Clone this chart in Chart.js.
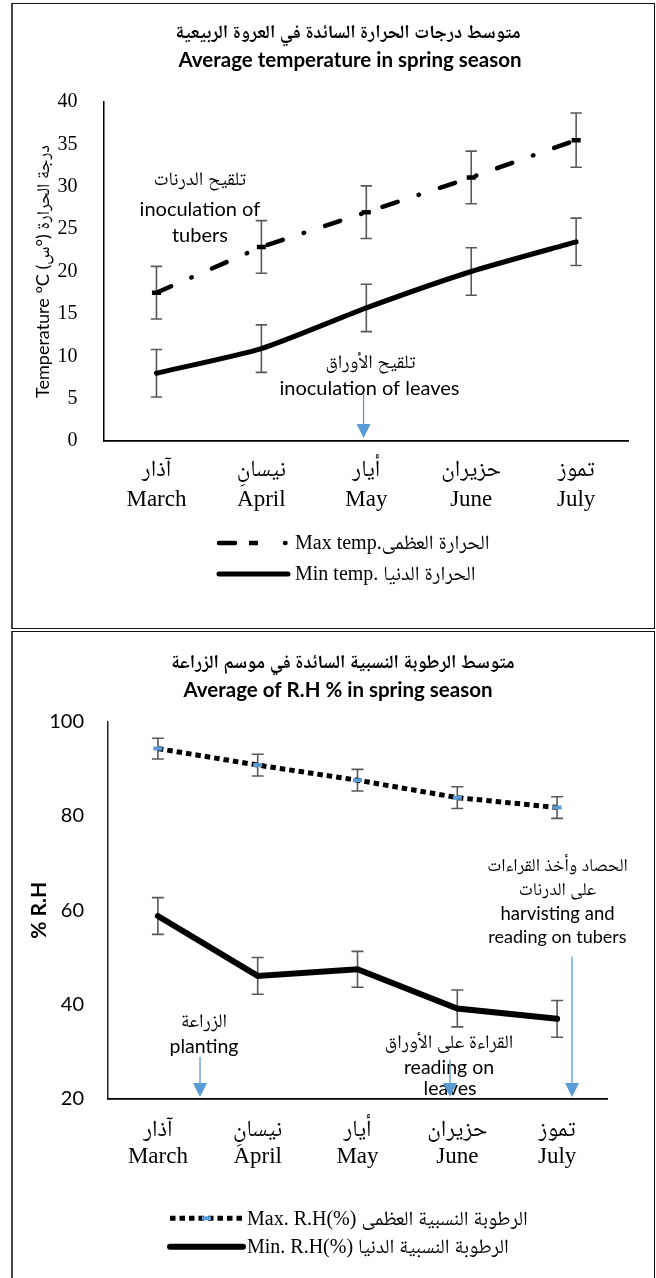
<!DOCTYPE html>
<html><head><meta charset="utf-8">
<script src="https://cdn.jsdelivr.net/npm/chart.js@4.4.1/dist/chart.umd.min.js"></script>
<style>
html,body{margin:0;padding:0;background:#fff}
body{width:656px;height:1278px;position:relative;overflow:hidden}
.panel{position:absolute;box-sizing:border-box;border:1px solid #111;border-left:2px solid #444}
#p1{left:11px;top:3px;width:644px;height:626px}
#p2{left:11px;top:631px;width:644px;height:660px}
canvas{position:absolute;left:0}
#c1{top:0}
#c2{top:630px}
</style></head>
<body>
<div class="panel" id="p1"></div>
<div class="panel" id="p2"></div>
<canvas id="c1" width="656" height="630" style="width:656px;height:630px"></canvas>
<canvas id="c2" width="656" height="648" style="width:656px;height:648px"></canvas>
<script>
// ---------- data ----------
const monthsAr = ['آذار', 'نيسانِ', 'أيار', 'حزيران', 'تموز'];
const monthsEn = ['March', 'April', 'May', 'June', 'July'];

const tempMax    = [17.5, 22.9, 27.0, 31.1, 35.5];
const tempMaxErr = [3.1, 3.1, 3.1, 3.1, 3.2];
const tempMin    = [8.0, 10.9, 15.7, 20.0, 23.5];
const tempMinErr = [2.8, 2.8, 2.8, 2.8, 2.8];

const rhMax    = [94.3, 90.8, 87.6, 83.9, 81.8];
const rhMaxErr = [2.2, 2.3, 2.3, 2.3, 2.3];
const rhMin    = [58.8, 46.1, 47.5, 39.2, 37.0];
const rhMinErr = [3.9, 3.9, 3.8, 3.9, 3.9];

const tempTicks = {min: 0, max: 40, step: 5};
const rhTicks   = {min: 20, max: 100, step: 20};

const titles1 = ['متوسط درجات الحرارة السائدة في العروة الربيعية', 'Average temperature in spring season'];
const titles2 = ['متوسط الرطوبة النسبية السائدة في موسم الزراعة', 'Average of R.H % in spring season'];
const yTitle1 = 'Temperature °C درجة الحرارة (°س)\u200F';
const yTitle2 = '% R.H';
const legend1 = ['Max temp.الحرارة العظمى', 'Min temp. الحرارة الدنيا'];
const legend2 = ['Max. R.H(%) الرطوبة النسبية العظمى', 'Min. R.H(%) الرطوبة النسبية الدنيا'];

const notes1 = ['تلقيح الدرنات', 'inoculation of', 'tubers', 'تلقيح الأوراق', 'inoculation of leaves'];
const notes2 = ['الزراعة', 'planting', 'القراءة على الأوراق', 'reading on', 'leaves',
                'الحصاد وأخذ القراءات', 'على الدرنات', 'harvisting and', 'reading on tubers'];

// ---------- styles ----------
const BLUE = '#5B9BD5';
const ERR = '#595959';
const AR = "'Noto Naskh Arabic', 'Noto Sans Arabic', 'DejaVu Sans Condensed'";
const SANS = "Lato, " + AR + ", sans-serif";
const SERIF = "'Liberation Serif', " + AR + ", serif";
const labels = monthsAr.map((a, i) => [a, monthsEn[i]]);

function overlay(cfg) {
  return {
    id: 'overlay',
    beforeDatasetsDraw(chart) {
      const ctx = chart.ctx, ys = chart.scales.y;
      chart.data.datasets.forEach((ds, i) => {
        if (!ds.errors) return;
        const meta = chart.getDatasetMeta(i);
        ctx.save();
        ctx.strokeStyle = ERR; ctx.lineWidth = 1.6; ctx.setLineDash([]);
        meta.data.forEach((pt, j) => {
          const v = ds.data[j], e = ds.errors[j];
          const yt = ys.getPixelForValue(v + e), yb = ys.getPixelForValue(v - e), x = pt.x;
          ctx.beginPath();
          ctx.moveTo(x, yt); ctx.lineTo(x, yb);
          ctx.moveTo(x - cfg.cap, yt); ctx.lineTo(x + cfg.cap, yt);
          ctx.moveTo(x - cfg.cap, yb); ctx.lineTo(x + cfg.cap, yb);
          ctx.stroke();
        });
        ctx.restore();
      });
    },
    afterDraw(chart) {
      const ctx = chart.ctx, xs = chart.scales.x, ys = chart.scales.y;
      const x0 = xs.getPixelForTick(0), dx = xs.getPixelForTick(1) - x0;
      const px = i => x0 + i * dx;
      ctx.save();
      ctx.fillStyle = '#000';
      ctx.textBaseline = 'middle';
      cfg.titles.forEach(t => {
        ctx.font = t.font; ctx.textAlign = 'center';
        ctx.fillText(t.text, t.x, t.y);
      });
      cfg.notes.forEach(t => {
        ctx.font = t.font; ctx.textAlign = 'center';
        ctx.fillText(t.text, px(t.i), ys.getPixelForValue(t.v));
      });
      cfg.arrows.forEach(a => {
        const x = px(a.i), y1 = ys.getPixelForValue(a.from), y2 = ys.getPixelForValue(a.to);
        ctx.strokeStyle = BLUE; ctx.fillStyle = BLUE; ctx.lineWidth = 1.3;
        ctx.beginPath(); ctx.moveTo(x, y1); ctx.lineTo(x, y2 - 12); ctx.stroke();
        ctx.beginPath(); ctx.moveTo(x - 7, y2 - 14); ctx.lineTo(x + 7, y2 - 14); ctx.lineTo(x, y2); ctx.closePath(); ctx.fill();
      });
      chart.data.datasets.forEach((ds, i) => {
        const L = cfg.legend, y = L.y[i];
        ctx.save();
        ctx.strokeStyle = ds.borderColor; ctx.lineWidth = ds.borderWidth;
        ctx.lineCap = ds.borderCapStyle || 'butt';
        ctx.setLineDash((L.dash && L.dash[i]) || ds.borderDash || []);
        ctx.beginPath(); ctx.moveTo(L.x1, y); ctx.lineTo(L.x2, y); ctx.stroke();
        ctx.setLineDash([]);
        if (ds.pointStyle === 'line' && ds.pointRadius > 0) {
          const mx = (L.x1 + L.x2) / 2;
          ctx.lineCap = 'butt';
          ctx.strokeStyle = ds.pointBorderColor; ctx.lineWidth = ds.pointBorderWidth;
          ctx.beginPath(); ctx.moveTo(mx - ds.pointRadius, y); ctx.lineTo(mx + ds.pointRadius, y); ctx.stroke();
        }
        ctx.restore();
        ctx.font = L.font; ctx.textAlign = 'left'; ctx.fillStyle = '#000'; ctx.textBaseline = 'middle';
        ctx.fillText(ds.label, L.tx, y + 1);
      });
      ctx.restore();
    }
  };
}

Chart.defaults.animation = false;
Chart.defaults.color = '#000';

// ---------- chart 1: temperature ----------
new Chart(document.getElementById('c1'), {
  type: 'line',
  data: {
    labels: labels,
    datasets: [
      { label: legend1[0], data: tempMax, errors: tempMaxErr,
        borderColor: '#000', borderWidth: 4.5, borderDash: [16, 22, 0.5, 22], borderCapStyle: 'round',
        pointStyle: 'line', pointRadius: 4.5, pointBorderColor: '#000', pointBorderWidth: 4.5,
        pointBackgroundColor: '#000', tension: 0, fill: false },
      { label: legend1[1], data: tempMin, errors: tempMinErr,
        borderColor: '#000', borderWidth: 5, borderCapStyle: 'round', pointRadius: 0,
        tension: 0.2, fill: false }
    ]
  },
  options: {
    responsive: false,
    layout: { padding: { left: 0, top: 102, right: 27.4, bottom: 109 } },
    plugins: { legend: { display: false }, title: { display: false }, tooltip: { enabled: false } },
    scales: {
      x: {
        offset: true,
        grid: { display: false, drawTicks: false },
        border: { display: true, color: '#000', width: 1.8 },
        ticks: { autoSkip: false, maxRotation: 0, padding: 14, color: '#000',
                 font: { family: SERIF, size: 23, lineHeight: '30px' } },
        afterFit: s => { s.height = 80; }
      },
      y: {
        min: tempTicks.min, max: tempTicks.max,
        grid: { display: false, drawTicks: false },
        border: { display: true, color: '#000', width: 1.5 },
        ticks: { stepSize: tempTicks.step, padding: 26.5, color: '#000',
                 font: { family: SERIF, size: 20 } },
        title: { display: true, text: yTitle1, color: '#000', padding: { top: 32, bottom: 0 },
                 font: { family: SANS, size: 18 } },
        afterFit: s => { s.width = 104; }
      }
    }
  },
  plugins: [overlay({
    cap: 5.7,
    titles: [
      { text: titles1[0], x: 348, y: 32, font: "bold 18.8px " + SANS },
      { text: titles1[1], x: 350, y: 60, font: "bold 20.5px " + SANS }
    ],
    notes: [
      { text: notes1[0], i: 0.414, v: 30.8, font: "19px " + SERIF },
      { text: notes1[1], i: 0.414, v: 27.26, font: "20px " + SANS },
      { text: notes1[2], i: 0.414, v: 24.3, font: "20px " + SANS },
      { text: notes1[3], i: 2.04, v: 9.24, font: "19px " + SERIF },
      { text: notes1[4], i: 2.03, v: 6.14, font: "20px " + SANS }
    ],
    arrows: [ { i: 1.974, from: 5.66, to: 0.35 } ],
    legend: { x1: 219, x2: 288, tx: 295, y: [543, 574], dash: [[16, 50, 0.5, 100], null],
              font: "20px " + SERIF }
  })]
});

// ---------- chart 2: relative humidity ----------
new Chart(document.getElementById('c2'), {
  type: 'line',
  data: {
    labels: labels,
    datasets: [
      { label: legend2[0], data: rhMax, errors: rhMaxErr,
        borderColor: '#000', borderWidth: 5, borderDash: [5.5, 4], borderCapStyle: 'butt',
        pointStyle: 'line', pointRadius: 4.5, pointBorderColor: BLUE, pointBorderWidth: 4,
        pointBackgroundColor: BLUE, tension: 0, fill: false },
      { label: legend2[1], data: rhMin, errors: rhMinErr,
        borderColor: '#000', borderWidth: 6, borderCapStyle: 'round', pointRadius: 0,
        tension: 0, fill: false }
    ]
  },
  options: {
    responsive: false,
    layout: { padding: { left: 0, top: 91.7, right: 49, bottom: 99 } },
    plugins: { legend: { display: false }, title: { display: false }, tooltip: { enabled: false } },
    scales: {
      x: {
        offset: true,
        grid: { display: false, drawTicks: false },
        border: { display: true, color: '#000', width: 1.8 },
        ticks: { autoSkip: false, maxRotation: 0, padding: 17.5, color: '#000',
                 font: { family: SERIF, size: 23, lineHeight: '27px' } },
        afterFit: s => { s.height = 80; }
      },
      y: {
        min: rhTicks.min, max: rhTicks.max,
        grid: { display: false, drawTicks: false },
        border: { display: true, color: '#222', width: 1.5 },
        ticks: { stepSize: rhTicks.step, padding: 24, color: '#000',
                 font: { family: SANS, size: 20 } },
        title: { display: true, text: yTitle2, color: '#000', padding: { top: 26.4, bottom: 0 },
                 font: { family: SANS, size: 21, weight: 'bold' } },
        afterFit: s => { s.width = 108; }
      }
    }
  },
  plugins: [overlay({
    cap: 6,
    titles: [
      { text: titles2[0], x: 343, y: 31.7, font: "bold 18.8px " + SANS },
      { text: titles2[1], x: 338, y: 60, font: "bold 20.5px " + SANS }
    ],
    notes: [
      { text: notes2[0], i: 0.462, v: 36.4, font: "19px " + SERIF },
      { text: notes2[1], i: 0.462, v: 31.1, font: "19.5px " + SANS },
      { text: notes2[2], i: 2.917, v: 31.95, font: "19px " + SERIF },
      { text: notes2[3], i: 2.917, v: 26.6, font: "19.5px " + SANS },
      { text: notes2[4], i: 2.927, v: 22.1, font: "19.5px " + SANS },
      { text: notes2[5], i: 4.004, v: 69.3, font: "18px " + SERIF },
      { text: notes2[6], i: 4.004, v: 64.35, font: "18px " + SERIF },
      { text: notes2[7], i: 4.004, v: 59.2, font: "18.5px " + SANS },
      { text: notes2[8], i: 4.004, v: 54.4, font: "18px " + SANS }
    ],
    arrows: [
      { i: 0.422, from: 28.9, to: 20.4 },
      { i: 2.927, from: 28.3, to: 20.4 },
      { i: 4.15, from: 50.2, to: 20.4 }
    ],
    legend: { x1: 170, x2: 243, tx: 247, y: [588.3, 616.7], dash: null,
              font: "20px " + SERIF }
  })]
});
</script>
</body></html>
